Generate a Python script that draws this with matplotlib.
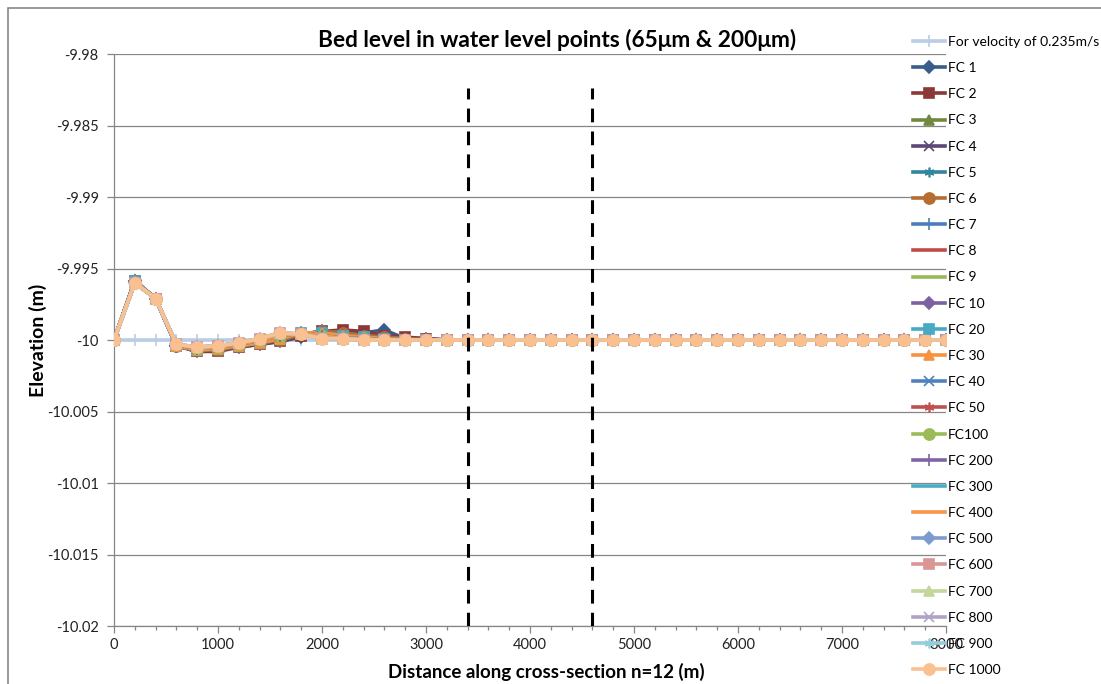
import matplotlib
matplotlib.use("Agg")
import matplotlib.pyplot as plt
from matplotlib.patches import Rectangle

plt.rcParams['font.family'] = ['Lato', 'DejaVu Sans']

# distance along cross-section (m), one point every 200 m
distance = list(range(0, 8001, 200))

# bed level profiles (m), 0..3000 m, then flat at -10
flat_tail = [-10.0] * 25

velocity_ref = [-10.0] * 41

profile_fc1 = [-10.0, -9.99585, -9.9971, -10.0004, -10.0008, -10.0007, -10.0005, -10.0003,
               -10.0001, -9.9998, -9.9994, -9.9995, -9.9995, -9.9993, -9.9999, -9.9999] + flat_tail
profile_fc2 = [-10.0, -9.99585, -9.9971, -10.0004, -10.0008, -10.0008, -10.0005, -10.0003,
               -10.0001, -9.9997, -9.9994, -9.9993, -9.9994, -9.9997, -9.9998, -9.9999] + flat_tail
profile_fc3 = [-10.0, -9.9959, -9.9971, -10.0004, -10.0007, -10.0007, -10.0004, -10.0002,
               -10.0000, -9.9996, -9.9994, -9.9995, -9.9997, -9.9998, -9.9999, -10.0] + flat_tail
profile_fc10 = [-10.0, -9.9959, -9.9971, -10.0004, -10.0007, -10.0006, -10.0004, -10.0002,
                -9.9999, -9.9995, -9.9995, -9.9997, -9.9998, -9.9999, -10.0, -10.0] + flat_tail
profile_fc100 = [-10.0, -9.9960, -9.9971, -10.0003, -10.0006, -10.0005, -10.0003, -10.0000,
                 -9.9997, -9.9995, -9.9997, -9.9999, -9.9999, -10.0, -10.0, -10.0] + flat_tail
profile_fc1000 = [-10.0, -9.9960, -9.9971, -10.0003, -10.0005, -10.0004, -10.0002, -9.9999,
                  -9.9995, -9.9996, -9.9999, -9.9999, -10.0, -10.0, -10.0, -10.0] + flat_tail

labels = ['For velocity of 0.235m/s', 'FC 1', 'FC 2', 'FC 3', 'FC 4', 'FC 5', 'FC 6', 'FC 7',
          'FC 8', 'FC 9', 'FC 10', 'FC 20', 'FC 30', 'FC 40', 'FC 50', 'FC100', 'FC 200',
          'FC 300', 'FC 400', 'FC 500', 'FC 600', 'FC 700', 'FC 800', 'FC 900', 'FC 1000']
series = [velocity_ref, profile_fc1, profile_fc2, profile_fc3, profile_fc3, profile_fc3,
          profile_fc3, profile_fc10, profile_fc10, profile_fc10, profile_fc10, profile_fc10,
          profile_fc10, profile_fc100, profile_fc100, profile_fc100, profile_fc100, profile_fc100,
          profile_fc100, profile_fc1000, profile_fc1000, profile_fc1000, profile_fc1000,
          profile_fc1000, profile_fc1000]
colors = ['#B9CDE5', '#385D8A', '#8C3836', '#71893F', '#5C4776', '#31859C', '#B66D31',
          '#4A7EBB', '#BE4B48', '#98B954', '#7D60A0', '#46AAC5', '#F69240', '#4F81BD',
          '#C0504D', '#9BBB59', '#8064A2', '#4BACC6', '#F79646', '#7C9CCF', '#D99694',
          '#C3D69B', '#B3A2C7', '#93CDDD', '#FAC090']
markers = ['+', 'D', 's', '^', 'x', (6, 2, 0), 'o', '+', None, None, 'D', 's', '^', 'x',
           (6, 2, 0), 'o', '+', None, None, 'D', 's', '^', 'x', (6, 2, 0), 'o']
sizes = {'+': 9, 'D': 6, 's': 7, '^': 7, 'x': 7, 'o': 8}

fig = plt.figure(figsize=(11.01, 6.84), dpi=100)
ax = fig.add_axes([114 / 1101, 1 - 626 / 684, 832 / 1101, 572 / 684])

# chart border
fig.patches.append(Rectangle((8 / 1101, -0.05), 1.2, 1 - 8 / 684 + 0.05,
                             transform=fig.transFigure, fill=False,
                             edgecolor='#868686', linewidth=1.2))

handles = []
for vals, lab, col, mk in zip(series, labels, colors, markers):
    ms = sizes.get(mk, 7) if mk is not None else 0
    line, = ax.plot(distance, vals, color=col, linewidth=2.6, marker=mk,
                    markersize=ms, markeredgecolor=col, markerfacecolor=col,
                    markeredgewidth=1.2, label=lab, zorder=3)
    handles.append(line)

# dashed markers of the section
for xv in [3400, 4600]:
    ax.plot([xv, xv], [-10.02, -9.9824], color='black', linewidth=2.2,
            linestyle=(0, (4.5, 3)), zorder=4)

ax.set_xlim(0, 8000)
ax.set_ylim(-10.02, -9.98)
yt = [-10.02 + 0.005 * i for i in range(9)]
ax.set_yticks(yt)
ax.set_yticklabels(['%g' % round(v, 3) for v in yt])
ax.set_xticks(range(0, 8001, 1000))
ax.set_xticks(range(0, 8001, 200), minor=True)
ax.grid(axis='y', color='#868686', linewidth=0.9, zorder=0)
for side in ['top', 'right']:
    ax.spines[side].set_visible(False)
for side in ['left', 'bottom']:
    ax.spines[side].set_color('#868686')
    ax.spines[side].set_linewidth(0.9)
ax.tick_params(axis='both', which='both', color='#868686', direction='out', labelsize=10.5,
               labelcolor='#222222')
ax.tick_params(axis='both', which='major', length=5, width=0.9)
ax.tick_params(axis='x', which='minor', length=3, width=0.9)
ax.tick_params(axis='y', pad=6)

ax.set_xlabel('Distance along cross-section n=12 (m)', fontsize=13.5, fontweight='bold')
ax.xaxis.set_label_coords((546 - 114) / 832, -(663 - 626) / 572)
ax.set_ylabel('Elevation (m)', fontsize=14, fontweight='bold')
ax.yaxis.set_label_coords(-(114 - 47) / 832, 0.5)
fig.text(557 / 1101, 1 - 40 / 684, 'Bed level in water level points (65μm & 200μm)',
         fontsize=16.3, fontweight='bold', ha='center', va='center')

fig.legend(handles=handles, loc='upper left', bbox_to_anchor=(913 / 1101, 1 - 36 / 684),
           frameon=False, fontsize=10, labelspacing=1.02, handlelength=2.3,
           handletextpad=0.2, borderaxespad=0, borderpad=0)

fig.savefig('out.png', dpi=100)
